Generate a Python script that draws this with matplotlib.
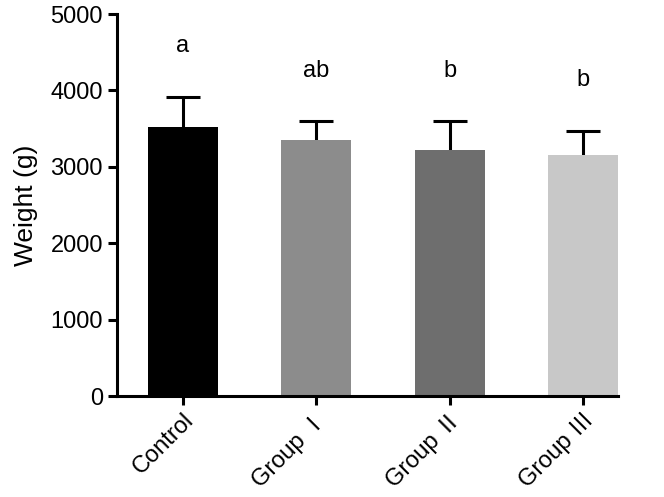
import matplotlib
matplotlib.use("Agg")
import matplotlib.pyplot as plt
import numpy as np

categories = ["Control", "Group Ⅰ", "Group Ⅱ", "Group Ⅲ"]
means = [3520, 3350, 3220, 3160]
errors = [400, 250, 380, 310]
letters = ["a", "ab", "b", "b"]
colors = ["#000000", "#8c8c8c", "#6e6e6e", "#c8c8c8"]

plt.rcParams['font.family'] = ['Liberation Sans', 'Noto Sans CJK SC', 'DejaVu Sans']

fig = plt.figure(figsize=(6.64, 4.97), dpi=100)
ax = fig.add_axes([0.176, 0.2032, 0.755, 0.7686])

x = np.arange(len(categories))
ax.bar(x, means, width=0.524, color=colors, zorder=2)
ax.errorbar(x, means, yerr=errors, fmt='none',
            ecolor='black', elinewidth=2.2, capsize=12, capthick=2.2, zorder=1)

for xi, m, e, l in zip(x, means, errors, letters):
    ax.text(xi, m + e + 660, l, ha='center', va='center', fontsize=17)

ax.set_xlim(-0.494, 3.26)
ax.set_ylim(0, 5000)
ax.set_yticks([0, 1000, 2000, 3000, 4000, 5000])
ax.set_xticks(x)
ax.set_xticklabels(categories, rotation=45, ha='right', rotation_mode='anchor', fontsize=17)
ax.tick_params(axis='y', labelsize=17, width=2.2, length=6.5)
ax.tick_params(axis='x', width=2.2, length=6.5, pad=3)
ax.set_ylabel("Weight (g)", fontsize=19, labelpad=9)
for s in ['top', 'right']:
    ax.spines[s].set_visible(False)
for s in ['left', 'bottom']:
    ax.spines[s].set_linewidth(2.2)

fig.savefig("out.png", dpi=100)
